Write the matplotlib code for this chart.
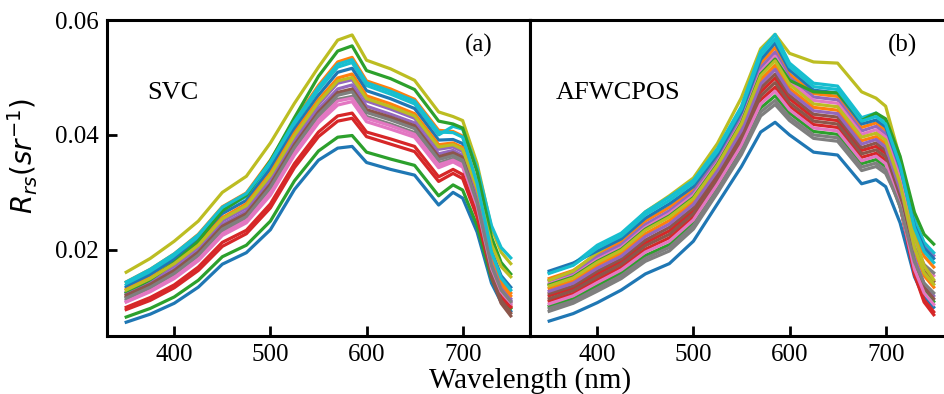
import matplotlib
matplotlib.use("Agg")
import matplotlib.pyplot as plt
import numpy as np

# wavelength nodes (nm)
wavelengths = [350, 375, 400, 425, 450, 475, 500, 525, 550, 570, 585,
               600, 625, 650, 675, 690, 700, 715, 730, 740, 750]

# Rrs values, in units of 1e-3 sr^-1
svc_spectra = [
    [7.4, 8.8, 10.7, 13.5, 17.5, 19.5, 23.5, 30.5, 35.6, 37.7, 38.0, 35.2, 34.0, 33.0, 27.8, 30.0, 29.0, 23.1, 14.2, 10.9, 9.3],
    [14.4, 16.6, 19.3, 22.7, 27.5, 29.9, 35.6, 42.5, 48.6, 52.7, 53.5, 49.4, 48.0, 46.2, 40.8, 40.6, 39.8, 31.6, 19.3, 14.7, 12.5],
    [8.3, 9.8, 11.8, 14.7, 18.8, 20.8, 25.0, 32.0, 37.2, 39.6, 39.9, 37.0, 35.8, 34.7, 29.4, 31.3, 30.4, 24.2, 15.0, 11.4, 9.8],
    [9.6, 11.2, 13.4, 16.4, 20.6, 22.8, 27.3, 34.3, 39.7, 42.4, 42.9, 39.7, 38.4, 37.1, 31.9, 33.3, 32.4, 25.7, 15.8, 12.0, 10.2],
    [12.6, 14.6, 17.2, 20.4, 25.0, 27.3, 32.6, 39.5, 45.3, 49.0, 49.6, 45.9, 44.5, 42.9, 37.5, 37.9, 37.1, 29.4, 17.9, 13.5, 11.5],
    [11.8, 13.7, 16.1, 19.3, 23.8, 26.0, 31.1, 38.0, 43.7, 47.1, 47.7, 44.1, 42.8, 41.3, 35.9, 36.6, 35.8, 27.6, 15.3, 10.7, 8.5],
    [10.9, 12.7, 15.0, 18.1, 22.5, 24.7, 29.5, 36.5, 42.1, 45.2, 45.8, 42.3, 41.0, 39.6, 34.3, 35.3, 34.4, 27.2, 16.5, 12.4, 10.5],
    [11.3, 13.2, 15.6, 18.7, 23.1, 25.4, 30.3, 37.3, 42.9, 46.2, 46.7, 43.2, 41.9, 40.4, 35.1, 35.9, 35.1, 27.8, 16.9, 12.7, 10.8],
    [16.1, 18.5, 21.5, 25.0, 30.0, 32.8, 38.6, 45.5, 51.8, 56.5, 57.4, 53.0, 51.5, 49.5, 44.0, 43.2, 42.5, 35.0, 23.8, 19.6, 17.6],
    [13.9, 16.1, 18.8, 22.1, 26.9, 29.3, 34.8, 41.8, 47.8, 51.8, 52.6, 48.6, 47.1, 45.4, 40.0, 41.5, 41.0, 34.3, 24.2, 20.4, 18.6],
    [13.5, 15.6, 18.3, 21.6, 26.3, 28.6, 34.1, 41.0, 46.9, 50.9, 51.6, 47.7, 46.3, 44.6, 39.1, 39.2, 38.5, 31.0, 19.8, 15.5, 13.5],
    [13.1, 15.1, 17.7, 21.0, 25.6, 28.0, 33.3, 40.3, 46.1, 49.9, 50.6, 46.8, 45.4, 43.7, 38.3, 38.6, 37.8, 30.1, 18.5, 14.1, 12.0],
    [12.5, 14.8, 17.8, 21.5, 26.8, 29.5, 35.5, 43.0, 50.2, 54.6, 55.5, 51.2, 49.8, 47.9, 42.4, 41.9, 41.2, 33.6, 22.2, 17.8, 15.8],
    [10.0, 11.7, 13.9, 17.0, 21.3, 23.4, 28.0, 35.0, 40.5, 43.3, 43.8, 40.5, 39.3, 38.0, 32.7, 34.0, 33.1, 26.2, 15.8, 11.8, 10.0],
    [12.2, 14.1, 16.6, 19.8, 24.4, 26.7, 31.8, 38.8, 44.5, 48.0, 48.7, 45.0, 43.6, 42.1, 36.7, 37.3, 36.4, 28.8, 17.5, 13.2, 11.2],
    [12.1, 14.0, 16.4, 19.6, 24.1, 26.3, 31.4, 38.3, 44.0, 47.4, 48.0, 44.4, 43.1, 41.6, 36.2, 36.9, 36.1, 28.0, 15.8, 11.2, 9.0],
    [11.0, 12.9, 15.3, 18.4, 22.8, 25.1, 30.0, 37.0, 42.6, 45.9, 46.4, 42.9, 41.6, 40.1, 34.8, 35.6, 34.8, 27.6, 16.8, 12.7, 10.8],
    [11.6, 13.5, 15.9, 19.1, 23.6, 25.8, 30.9, 37.8, 43.5, 46.9, 47.5, 43.9, 42.6, 41.1, 35.7, 36.4, 35.6, 28.2, 17.2, 13.0, 11.0],
    [13.0, 15.0, 17.6, 20.8, 25.4, 27.7, 33.0, 39.9, 45.7, 49.4, 50.0, 46.3, 44.9, 43.3, 37.9, 38.3, 37.5, 30.8, 20.9, 17.1, 15.3],
    [14.4, 16.6, 19.3, 22.6, 27.4, 29.8, 35.3, 42.3, 48.3, 52.3, 53.1, 49.1, 47.6, 45.9, 40.5, 40.4, 39.6, 31.6, 19.6, 15.1, 13.0],
]

afwcpos_spectra = [
    [7.6, 8.9, 10.8, 13.0, 15.8, 17.6, 21.5, 28.0, 34.5, 40.5, 42.2, 40.0, 37.0, 36.5, 31.5, 32.2, 31.0, 24.7, 15.3, 11.7, 10.0],
    [15.0, 16.4, 19.3, 21.4, 25.0, 27.4, 30.5, 36.2, 43.4, 52.4, 55.2, 50.6, 47.2, 46.7, 41.3, 42.1, 40.8, 33.7, 23.0, 18.9, 17.0],
    [10.2, 11.5, 13.8, 16.0, 19.0, 20.9, 24.7, 30.9, 37.7, 44.7, 46.8, 43.8, 40.6, 40.1, 35.0, 35.7, 34.5, 27.5, 16.9, 12.9, 11.0],
    [12.0, 13.3, 15.8, 18.0, 21.2, 23.3, 26.8, 32.8, 39.8, 47.5, 49.9, 46.3, 43.0, 42.5, 37.3, 38.0, 36.8, 28.4, 15.7, 10.9, 8.7],
    [14.6, 15.9, 18.8, 20.9, 24.4, 26.8, 30.0, 35.7, 42.9, 51.7, 54.4, 50.0, 46.6, 46.1, 40.7, 41.5, 40.2, 33.8, 24.3, 20.7, 19.0],
    [12.4, 13.7, 16.3, 18.4, 21.7, 23.9, 27.3, 33.3, 40.3, 48.2, 50.6, 46.9, 43.6, 43.1, 37.8, 38.6, 37.3, 30.5, 20.2, 16.3, 14.5],
    [14.1, 15.5, 18.3, 20.4, 23.9, 26.3, 29.5, 35.2, 42.4, 51.0, 53.7, 49.4, 46.0, 45.5, 40.1, 40.9, 39.6, 32.4, 21.5, 17.4, 15.5],
    [9.3, 10.7, 12.8, 15.0, 18.0, 19.8, 23.6, 29.9, 36.6, 43.3, 45.3, 42.5, 39.4, 38.9, 33.8, 34.5, 33.3, 28.1, 20.3, 17.4, 16.0],
    [14.7, 16.3, 19.5, 22.3, 26.6, 29.4, 32.5, 38.5, 46.5, 55.0, 57.5, 54.2, 52.7, 52.5, 47.5, 46.4, 45.0, 35.9, 22.4, 17.2, 14.8],
    [16.0, 17.5, 20.8, 22.9, 26.6, 29.2, 32.1, 37.6, 45.0, 54.5, 57.5, 52.5, 49.0, 48.5, 43.0, 43.8, 42.5, 35.6, 25.3, 21.3, 19.5],
    [16.3, 17.7, 19.8, 21.9, 25.5, 28.0, 31.0, 36.6, 44.0, 53.1, 56.0, 51.3, 47.8, 47.3, 41.9, 42.6, 41.4, 34.5, 24.2, 20.3, 18.5],
    [13.3, 14.6, 17.3, 19.4, 22.8, 25.1, 28.4, 34.2, 41.3, 49.6, 52.1, 48.1, 44.8, 44.3, 39.0, 39.7, 38.5, 31.0, 19.8, 15.5, 13.5],
    [13.9, 15.3, 18.0, 20.1, 23.6, 25.9, 29.1, 34.9, 42.1, 50.6, 53.2, 49.5, 47.5, 47.3, 42.5, 43.8, 42.8, 36.3, 26.5, 22.7, 21.0],
    [11.1, 12.4, 14.8, 17.0, 20.1, 22.1, 25.7, 31.8, 38.7, 46.1, 48.3, 45.0, 41.8, 41.3, 36.1, 36.8, 35.6, 27.7, 15.8, 11.3, 9.2],
    [12.8, 14.2, 16.8, 18.9, 22.3, 24.5, 27.9, 33.8, 40.8, 48.9, 51.4, 47.5, 44.2, 43.7, 38.4, 39.2, 37.9, 30.1, 18.5, 14.1, 12.0],
    [11.5, 12.9, 15.3, 17.5, 20.7, 22.7, 26.3, 32.3, 39.2, 46.8, 49.1, 45.6, 42.4, 41.9, 36.7, 37.4, 36.2, 28.8, 17.7, 13.5, 11.5],
    [10.6, 12.0, 14.3, 16.5, 19.6, 21.5, 25.2, 31.4, 38.2, 45.4, 47.6, 44.4, 41.2, 40.7, 35.5, 36.3, 35.0, 27.7, 16.6, 12.5, 10.5],
    [9.8, 11.1, 13.3, 15.5, 18.5, 20.4, 24.2, 30.4, 37.1, 44.0, 46.0, 43.1, 40.0, 39.5, 34.4, 35.1, 33.9, 27.5, 17.9, 14.2, 12.5],
    [13.7, 15.1, 17.8, 19.9, 23.4, 25.7, 28.9, 34.7, 41.9, 50.3, 52.9, 48.8, 45.4, 44.9, 39.6, 40.3, 39.1, 31.6, 20.3, 16.0, 14.0],
    [15.9, 17.3, 20.3, 22.4, 26.1, 28.6, 31.6, 37.1, 44.5, 53.8, 56.7, 51.9, 48.4, 47.9, 42.4, 43.2, 41.9, 34.7, 23.8, 19.7, 17.8],
]

panel_names = ["SVC", "AFWCPOS"]
panel_tags = ["(a)", "(b)"]
xticks = [400, 500, 600, 700]
yticks = [0.02, 0.04, 0.06]

serif = "Liberation Serif"

fig = plt.figure(figsize=(9.45, 3.94), dpi=100)
ax1 = fig.add_axes([0.1132, 0.1472, 0.4476, 0.802])
ax2 = fig.add_axes([0.5608, 0.1472, 0.4476, 0.802])

wl = np.array(wavelengths)
for ax, spectra, name, tag, tx in zip([ax1, ax2], [svc_spectra, afwcpos_spectra],
                                      panel_names, panel_tags, [0.095, 0.06]):
    for s in spectra:
        ax.plot(wl, np.array(s) / 1000.0, lw=2.3, solid_joinstyle="round")
    ax.set_ylim(0.005, 0.06)
    ax.set_xticks(xticks)
    ax.tick_params(direction="in", length=7, width=2, pad=6, labelsize=18,
                   top=False, right=False)
    for lab in ax.get_xticklabels():
        lab.set_fontfamily(serif)
    for sp in ax.spines.values():
        sp.set_linewidth(2.2)
    ax.text(tx, 0.77, name, transform=ax.transAxes, fontsize=19,
            family=serif, va="center", ha="left")
    ax.text(0.88, 0.92, tag, transform=ax.transAxes, fontsize=18,
            family=serif, va="center", ha="center")

ax1.set_yticks(yticks)
ax1.set_yticklabels(["0.02", "0.04", "0.06"], fontfamily=serif)
ax1.set_ylabel(r"$R_{rs}(sr^{-1})$", fontsize=20)
ax1.yaxis.set_label_coords(-0.158, 0.57)

ax2.set_yticks([])

fig.text(0.561, 0.015, "Wavelength (nm)", fontsize=21, family=serif,
         ha="center", va="baseline")

fig.savefig("out.png", dpi=100)
